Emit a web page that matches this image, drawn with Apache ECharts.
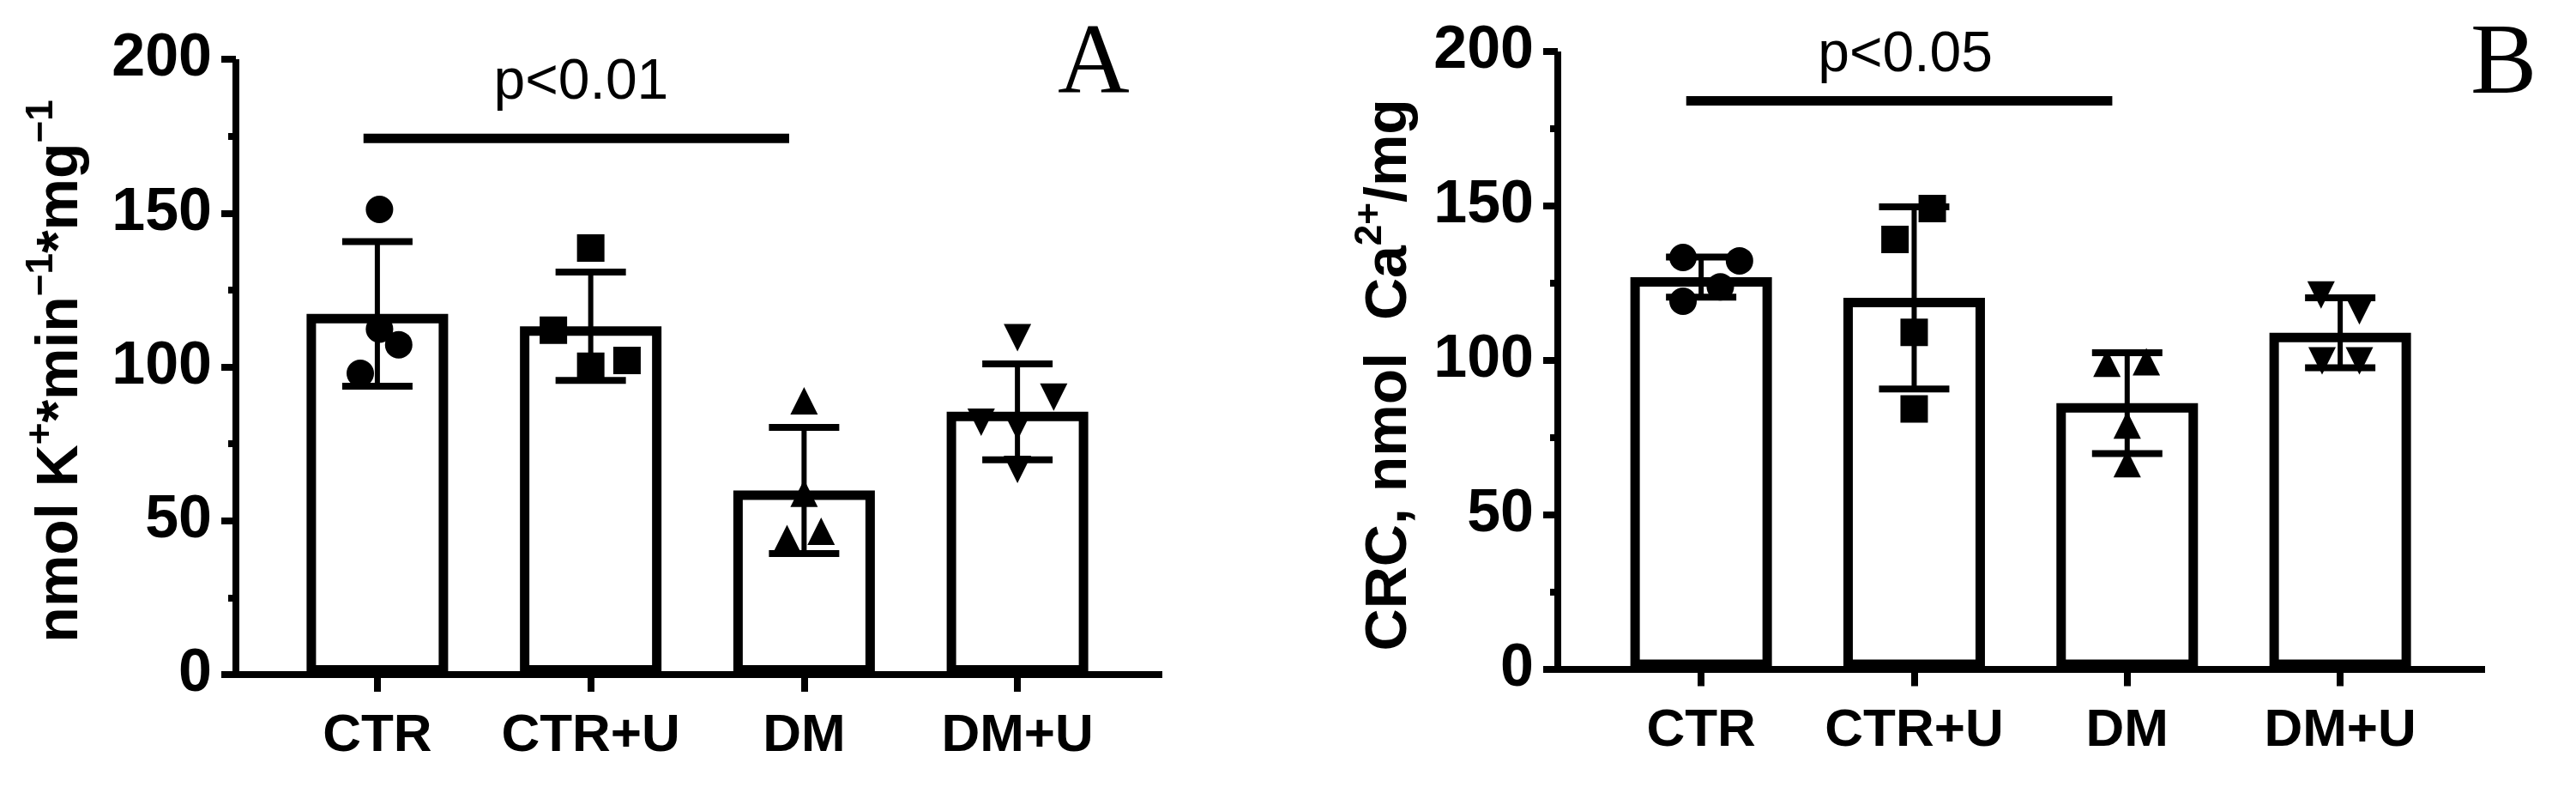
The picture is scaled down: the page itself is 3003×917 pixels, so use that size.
<!DOCTYPE html>
<html><head><meta charset="utf-8">
<script src="https://cdn.jsdelivr.net/npm/echarts@6/dist/echarts.min.js"></script>
<style>html,body{margin:0;padding:0;background:#fff}#c{width:3003px;height:917px}</style>
</head><body><div id="c"></div>
<script>
// ---------- data ----------
const categories = ['CTR', 'CTR+U', 'DM', 'DM+U'];
const yTickValues = [0, 50, 100, 150, 200];

// Panel A: nmol K+ * min-1 * mg-1
const meanA = [117.2, 113.2, 59.8, 85.4];
const sdA   = [23.5, 17.6, 20.5, 15.6];
const ptsA_CTR  = [151.2, 112.3, 107.2, 97.9];
const ptsA_CTRU = [138.6, 111.9, 100.2, 102.1];
const ptsA_DM   = [89.0, 58.9, 44.2, 46.6];
const ptsA_DMU  = [109.5, 90.2, 82.0, 80.6, 66.7];
const jitA_CTR  = [0.01, 0.01, 0.10, -0.08];
const jitA_CTRU = [0, -0.175, 0, 0.17];
const jitA_DM   = [0, 0, -0.08, 0.08];
const jitA_DMU  = [0, 0.17, -0.17, 0, 0];
const sigA = { label: 'p<0.01', from: -0.065, to: 1.93, level: 174.3, textAt: 0.955, textLevel: 192.2 };

// Panel B: CRC, nmol Ca2+/mg
const meanB = [126.9, 120.2, 86.1, 108.9];
const sdB   = [6.5, 29.5, 16.3, 11.3];
const ptsB_CTR  = [133.3, 132.2, 119.1, 123.8];
const ptsB_CTRU = [149.1, 139.1, 109.0, 84.2];
const ptsB_DM   = [99.0, 99.5, 79.0, 66.5];
const ptsB_DMU  = [121.1, 116.0, 99.8, 99.8];
const jitB_CTR  = [-0.085, 0.18, -0.085, 0.09];
const jitB_CTRU = [0.085, -0.09, 0, 0];
const jitB_DM   = [-0.095, 0.09, 0, 0];
const jitB_DMU  = [-0.09, 0.09, -0.085, 0.09];
const sigB = { label: 'p<0.05', from: -0.07, to: 1.93, level: 184.0, textAt: 0.958, textLevel: 198.6 };

// ---------- build ----------
const FONT = 'Liberation Sans, Arial, sans-serif';
const AXIS_W = 8;
const symbols = [
  { symbol: 'circle', rotate: 0 },
  { symbol: 'rect', rotate: 0 },
  { symbol: 'triangle', rotate: 0 },
  { symbol: 'triangle', rotate: 180 }
];

function xAxisFor(gi, min, max) {
  return {
    gridIndex: gi, type: 'value', min: min, max: max,
    splitLine: { show: false },
    axisLine: { show: true, onZero: false, lineStyle: { color: '#000', width: AXIS_W, cap: 'butt' } },
    axisTick: { show: true, customValues: [0, 1, 2, 3], length: 20, inside: false, lineStyle: { color: '#000', width: AXIS_W } },
    axisLabel: {
      show: true, customValues: [0, 1, 2, 3],
      formatter: v => categories[Math.round(v)] || '',
      color: '#000', fontFamily: FONT, fontWeight: 'bold', fontSize: 62, margin: 41
    }
  };
}
function yAxisFor(gi, name, gap, pad) {
  return {
    gridIndex: gi, type: 'value', min: yTickValues[0], max: yTickValues[yTickValues.length - 1], interval: 50,
    splitLine: { show: false }, minorSplitLine: { show: false },
    axisLine: { show: true, onZero: false, lineStyle: { color: '#000', width: AXIS_W, cap: 'butt' } },
    axisTick: { show: true, length: 17, lineStyle: { color: '#000', width: AXIS_W } },
    minorTick: { show: true, splitNumber: 2, length: 9, lineStyle: { color: '#000', width: AXIS_W } },
    axisLabel: { color: '#000', fontFamily: FONT, fontWeight: 'bold', fontSize: 70, margin: 28 },
    name: name, nameLocation: 'middle', nameRotate: 90, nameGap: gap,
    nameTextStyle: {
      color: '#000', fontFamily: FONT, fontWeight: 'bold', fontSize: 68, padding: pad,
      rich: {
        n: { fontFamily: FONT, fontWeight: 'bold', fontSize: 68, lineHeight: 78, color: '#000', verticalAlign: 'bottom' },
        s: { fontFamily: FONT, fontWeight: 'bold', fontSize: 44, lineHeight: 44, color: '#000', verticalAlign: 'top' }
      }
    }
  };
}

function panelSeries(gi, mean, sd, pts, jit, sig) {
  const list = [];
  list.push({
    type: 'bar', xAxisIndex: gi, yAxisIndex: gi, z: 1, barWidth: 165,
    data: mean.map((m, i) => [i, m]),
    itemStyle: { color: '#fff', borderColor: '#000', borderWidth: 11 },
    silent: true
  });
  list.push({
    type: 'custom', xAxisIndex: gi, yAxisIndex: gi, z: 3, silent: true,
    data: mean.map((m, i) => [i, m, sd[i]]),
    encode: { x: 0, y: 1 },
    renderItem: function (params, api) {
      const x = api.value(0), m = api.value(1), s = api.value(2);
      const t = api.coord([x, m + s]), b = api.coord([x, m - s]);
      const hw = 41;
      return {
        type: 'group', children: [
          { type: 'line', shape: { x1: t[0], y1: t[1], x2: b[0], y2: b[1] }, style: { stroke: '#000', lineWidth: 6 } },
          { type: 'line', shape: { x1: t[0] - hw, y1: t[1], x2: t[0] + hw, y2: t[1] }, style: { stroke: '#000', lineWidth: 8 } },
          { type: 'line', shape: { x1: b[0] - hw, y1: b[1], x2: b[0] + hw, y2: b[1] }, style: { stroke: '#000', lineWidth: 8 } }
        ]
      };
    }
  });
  pts.forEach((arr, ci) => {
    list.push({
      type: 'scatter', xAxisIndex: gi, yAxisIndex: gi, z: 4, silent: true,
      symbol: symbols[ci].symbol, symbolRotate: symbols[ci].rotate, symbolSize: 32,
      itemStyle: { color: '#000', opacity: 1 },
      data: arr.map((v, k) => [ci + jit[ci][k], v])
    });
  });
  list.push({
    type: 'line', xAxisIndex: gi, yAxisIndex: gi, z: 5, silent: true, symbol: 'none',
    lineStyle: { color: '#000', width: 11, cap: 'butt' },
    data: [[sig.from, sig.level], [sig.to, sig.level]]
  });
  list.push({
    type: 'scatter', xAxisIndex: gi, yAxisIndex: gi, z: 6, silent: true,
    symbol: 'circle', symbolSize: 0, itemStyle: { color: '#000' },
    data: [[sig.textAt, sig.textLevel]],
    label: { show: true, position: 'inside', formatter: sig.label, color: '#000', opacity: 1,
             textBorderWidth: 0, fontFamily: FONT, fontWeight: 'normal', fontSize: 66 }
  });
  return list;
}

const chart = echarts.init(document.getElementById('c'), null, { renderer: 'canvas' });
chart.setOption({
  animation: false,
  backgroundColor: '#fff',
  grid: [
    { left: 275, top: 69, width: 1080, height: 717, containLabel: false, outerBoundsMode: 'none' },
    { left: 1816, top: 60, width: 1081, height: 719.5, containLabel: false, outerBoundsMode: 'none' }
  ],
  xAxis: [xAxisFor(0, -0.663, 3.679), xAxisFor(1, -0.673, 3.68)],
  yAxis: [
    yAxisFor(0, '{n|nmol K}{s|+}{n|*min}{s|\u22121}{n|*mg}{s|\u22121}', 170, [0, 10, 0, 0]),
    yAxisFor(1, '{n|CRC, nmol  Ca}{s|2+}{n|/mg}', 162, [0, 34, 0, 0])
  ],
  series: [].concat(
    panelSeries(0, meanA, sdA, [ptsA_CTR, ptsA_CTRU, ptsA_DM, ptsA_DMU], [jitA_CTR, jitA_CTRU, jitA_DM, jitA_DMU], sigA),
    panelSeries(1, meanB, sdB, [ptsB_CTR, ptsB_CTRU, ptsB_DM, ptsB_DMU], [jitB_CTR, jitB_CTRU, jitB_DM, jitB_DMU], sigB)
  ),
  graphic: [
    { type: 'text', left: 1233, top: 20, style: { text: 'A', fill: '#000', font: '116px "Liberation Serif", "Times New Roman", serif' } },
    { type: 'text', left: 2880, top: 20, style: { text: 'B', fill: '#000', font: '116px "Liberation Serif", "Times New Roman", serif' } }
  ]
});
</script>
</body></html>
